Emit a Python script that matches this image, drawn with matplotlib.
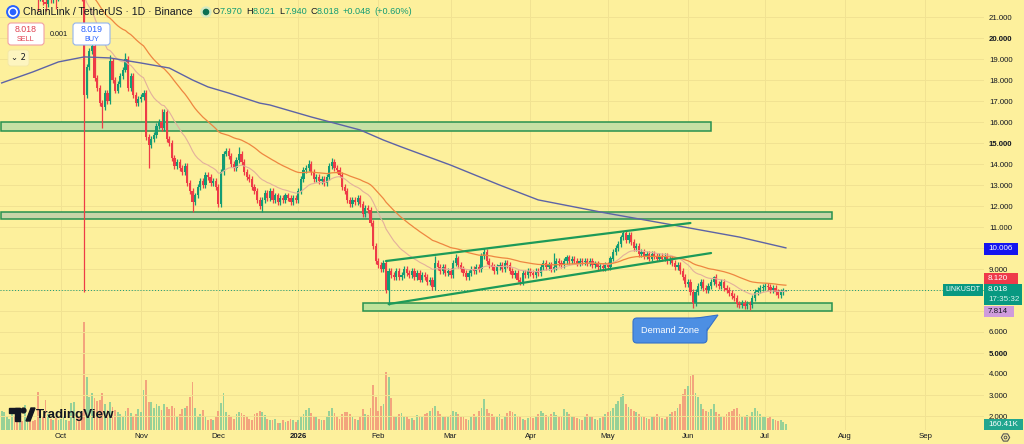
import numpy as np
import pandas as pd
import matplotlib
matplotlib.use('Agg')
import matplotlib.pyplot as plt
import matplotlib.dates as mdates
from matplotlib.patches import Rectangle, FancyBboxPatch, Polygon, Circle

plt.rcParams['font.family'] = ['Liberation Sans', 'DejaVu Sans']

# ---------------- data ----------------
start_date = '2025-09-08'
first_open = 22.3
closes_sep = [22.6, 23.0, 23.4, 23.7, 24.1, 23.9, 23.5, 23.8, 23.4, 23.6, 23.9, 23.3, 22.8, 22.5,
              21.9, 22.1, 21.7, 21.6, 22.0, 21.8, 22.2, 21.9, 22.0]
closes_oct = [22.4, 22.8, 23.0, 22.6, 22.9, 23.2, 22.5, 22.2, 21.9, 17.3, 18.6, 19.4, 19.6, 18.1,
              17.6, 16.9, 16.7, 17.4, 17.0, 18.9, 18.0, 17.5, 17.8, 18.2, 18.5, 19.0, 17.6, 18.2,
              17.3, 16.9, 17.1]
closes_nov = [17.2, 17.4, 15.3, 14.9, 15.2, 15.4, 15.8, 16.0, 15.7, 16.5, 15.2, 15.0, 14.3, 13.9,
              14.1, 13.8, 13.6, 13.9, 13.1, 12.7, 12.2, 12.5, 12.9, 13.2, 13.0, 13.5, 13.4, 13.1,
              13.2, 12.9]
closes_dec = [12.1, 13.6, 14.5, 14.6, 14.4, 14.0, 13.8, 14.2, 14.5, 14.1, 13.6, 13.4, 13.3, 12.9,
              12.7, 12.3, 12.0, 12.3, 12.6, 12.4, 12.7, 12.3, 12.5, 12.2, 12.4, 12.3, 12.5, 12.4,
              12.2, 12.4, 12.3]
closes_jan = [12.7, 13.3, 13.7, 13.8, 14.0, 13.6, 13.3, 13.4, 13.2, 13.3, 13.1, 13.4, 13.9, 14.1,
              13.8, 13.7, 13.5, 12.9, 12.7, 12.3, 12.1, 12.3, 12.2, 12.4, 12.1, 11.6, 11.9, 11.8,
              11.2, 10.1, 9.4]
closes_feb = [9.2, 9.0, 9.3, 8.0, 8.9, 8.7, 8.6, 8.9, 8.6, 8.7, 9.0, 8.8, 8.7, 8.9, 8.6, 8.8,
              8.5, 8.7, 8.6, 8.4, 8.5, 8.15, 9.3, 9.1, 8.9, 9.1, 8.8, 8.9]
closes_mar = [8.7, 9.3, 9.5, 9.2, 9.0, 8.8, 8.6, 8.8, 9.0, 8.9, 9.1, 9.0, 9.6, 9.8, 9.4, 9.2,
              9.1, 8.9, 9.1, 9.2, 9.0, 9.3, 9.2, 8.9, 8.7, 8.8, 8.5, 8.4, 8.8, 8.7, 8.9]
closes_apr = [8.8, 8.7, 8.9, 8.8, 9.1, 9.3, 9.1, 9.2, 9.0, 9.1, 9.4, 9.3, 9.2, 9.4, 9.55, 9.4,
              9.5, 9.4, 9.3, 9.4, 9.35, 9.4, 9.3, 9.4, 9.2, 9.25, 9.1, 9.15, 9.05, 9.2]
closes_may = [9.1, 9.5, 9.8, 10.0, 10.2, 10.5, 10.7, 10.4, 10.6, 10.3, 10.0, 10.1, 9.7, 9.8,
              9.6, 9.7, 9.5, 9.7, 9.6, 9.5, 9.6, 9.5, 9.6, 9.4, 9.5, 9.3, 9.1, 9.2, 8.9, 8.6, 8.3]
closes_jun = [8.4, 7.9, 7.4, 7.9, 8.2, 8.4, 8.1, 8.0, 8.2, 8.4, 8.6, 8.3, 8.2, 8.4, 8.1, 8.0,
              7.85, 7.7, 7.6, 7.35, 7.3, 7.4, 7.25, 7.35, 7.3, 7.6, 7.9, 8.0, 8.1, 8.15]
closes_jul = [8.2, 8.15, 8.0, 8.1, 7.9, 7.75, 7.9, 7.97, 8.018]

high_override = {'2025-10-10': 22.1, '2025-10-20': 19.2, '2025-10-26': 19.3, '2025-11-09': 16.6,
                 '2025-12-09': 14.8, '2026-01-05': 14.2, '2026-01-14': 14.3, '2026-02-23': 9.6,
                 '2026-03-03': 9.7, '2026-03-14': 10.0, '2026-04-10': 9.76, '2026-05-07': 10.8,
                 '2026-06-11': 8.65, '2026-07-09': 8.021}
low_override = {'2025-09-22': 21.3, '2025-09-25': 21.3, '2025-09-29': 21.4, '2025-10-10': 7.9,
                '2025-10-17': 15.7, '2025-11-04': 13.8, '2025-11-21': 11.7, '2025-12-18': 11.7,
                '2026-02-05': 7.29, '2026-03-28': 8.24, '2026-06-03': 7.14, '2026-06-25': 7.05,
                '2026-07-09': 7.94}

vol_sep = [520, 480, 350, 300, 420, 380, 260, 300, 250, 680, 310, 280, 240, 260, 1020, 400, 350,
           810, 420, 300, 280, 330, 260]
vol_oct = [300, 340, 280, 250, 730, 760, 420, 380, 450, 2920, 1430, 900, 1000, 860, 780, 820,
           1000, 700, 540, 760, 620, 540, 480, 420, 350, 520, 600, 450, 380, 420, 560]
vol_nov = [480, 1080, 1350, 760, 760, 600, 700, 650, 540, 700, 620, 560, 640, 600, 380, 420, 560,
           600, 640, 890, 1300, 600, 380, 420, 540, 350, 280, 300, 260, 340]
vol_dec = [520, 730, 1000, 480, 400, 350, 300, 420, 480, 450, 400, 380, 300, 260, 420, 450, 520,
           480, 400, 300, 260, 280, 300, 200, 180, 260, 220, 240, 300, 280, 220]
vol_jan = [260, 380, 420, 540, 600, 450, 380, 350, 300, 280, 260, 380, 520, 600, 450, 380, 300,
           420, 480, 500, 420, 350, 300, 260, 380, 560, 420, 400, 600, 1210, 890]
vol_feb = [520, 660, 700, 1570, 1430, 860, 380, 340, 420, 450, 380, 350, 300, 320, 280, 400, 380,
           350, 420, 450, 520, 600, 640, 520, 420, 380, 350, 380]
vol_mar = [400, 520, 480, 420, 380, 350, 300, 280, 350, 420, 380, 520, 600, 840, 560, 450, 420,
           380, 350, 420, 300, 380, 450, 520, 480, 420, 380, 350, 300, 280, 320]
vol_apr = [350, 320, 380, 420, 520, 450, 400, 380, 420, 480, 400, 350, 380, 560, 480, 420, 380,
           350, 320, 300, 280, 350, 420, 380, 350, 300, 280, 320, 380, 420]
vol_may = [480, 520, 600, 700, 780, 900, 960, 700, 620, 560, 520, 480, 420, 380, 350, 320, 300,
           350, 380, 420, 350, 320, 300, 380, 420, 480, 520, 600, 700, 980, 1100]
vol_jun = [1200, 1450, 1500, 1000, 900, 700, 560, 520, 480, 560, 700, 480, 420, 380, 350, 420, 480,
           520, 560, 600, 420, 380, 350, 400, 380, 480, 600, 520, 420, 380]
vol_jul = [350, 320, 380, 300, 260, 240, 280, 220, 160.41]

ma200_dates = ['2025-09-08', '2025-09-20', '2025-09-30', '2025-10-10', '2025-10-20', '2025-11-01',
               '2025-11-12', '2025-11-21', '2025-11-27', '2025-12-05', '2025-12-17', '2025-12-21',
               '2026-01-06', '2026-01-25', '2026-02-03', '2026-02-10', '2026-03-01', '2026-03-20',
               '2026-04-04', '2026-04-30', '2026-05-26', '2026-06-21', '2026-07-09']
ma200_vals = [17.86, 18.38, 18.86, 19.10, 19.05, 18.81, 18.57, 18.00, 17.67, 17.38, 16.90, 16.81,
              16.24, 15.62, 15.14, 14.81, 13.95, 13.00, 12.29, 11.67, 11.10, 10.52, 10.006]

# zones: (start, end, low, high)
zone_starts = ['2025-09-07', '2025-09-07', '2026-01-26']
zone_ends = ['2026-06-10', '2026-07-27', '2026-07-27']
zone_lows = [15.57, 11.38, 7.0]
zone_highs = [16.0, 11.71, 7.38]
# channel lines
chan_upper_dates = ['2026-02-04', '2026-06-02']
chan_upper_vals = [9.38, 11.19]
chan_lower_dates = ['2026-02-05', '2026-06-10']
chan_lower_vals = [7.33, 9.76]

month_ticks = ['2025-10-01', '2025-11-01', '2025-12-01', '2026-01-01', '2026-02-01', '2026-03-01',
               '2026-04-01', '2026-05-01', '2026-06-01', '2026-07-01', '2026-08-01', '2026-09-01']
month_labels = ['Oct', 'Nov', 'Dec', '2026', 'Feb', 'Mar', 'Apr', 'May', 'Jun', 'Jul', 'Aug', 'Sep']
price_ticks = list(range(2, 22))

# ---------------- build series ----------------
closes = np.array(closes_sep + closes_oct + closes_nov + closes_dec + closes_jan + closes_feb +
                  closes_mar + closes_apr + closes_may + closes_jun + closes_jul)
vols = np.array(vol_sep + vol_oct + vol_nov + vol_dec + vol_jan + vol_feb + vol_mar + vol_apr +
                vol_may + vol_jun + vol_jul)
dates = pd.date_range(start_date, periods=len(closes), freq='D')
opens = np.concatenate([[first_open], closes[:-1]])
wick = 0.14
highs = np.maximum(opens, closes) + wick
lows = np.minimum(opens, closes) - wick
for d, v in high_override.items():
    highs[dates.get_loc(pd.Timestamp(d))] = v
for d, v in low_override.items():
    lows[dates.get_loc(pd.Timestamp(d))] = v
s = pd.Series(closes, index=dates)
ema_fast = s.ewm(span=20, adjust=False).mean()
ema_slow = s.ewm(span=50, adjust=False).mean()

x = mdates.date2num(dates)
d0 = mdates.date2num(pd.Timestamp(start_date))

# ---------------- style ----------------
BG = '#fdf09c'
GRID = '#f1e292'
UP = '#139c74'
DN = '#ee3b47'
TXT = '#131722'
W, H = 1024, 444

fig = plt.figure(figsize=(W / 100, H / 100), dpi=100, facecolor=BG)
rect = [0, (H - 430) / H, 984 / W, 430 / H]
axv = fig.add_axes(rect, zorder=0)
ax = fig.add_axes(rect, zorder=1, sharex=axv)
axv.set_facecolor(BG)
ax.patch.set_alpha(0)

xmin, xmax = d0 - 0.64, d0 + 380.8
ax.set_xlim(xmin, xmax)
ax.set_ylim(21 - 413 / 21, 21 + 17 / 21)

# grid
for t in month_ticks:
    axv.axvline(mdates.date2num(pd.Timestamp(t)), color=GRID, lw=0.7, zorder=0)
for p in price_ticks:
    ax.axhline(p, color=GRID, lw=0.7, zorder=0)

# volume
vcol = np.where(closes >= opens, '#97d197', '#f3a47d')
axv.bar(x, vols, width=0.7, color=vcol, lw=0, zorder=2)
axv.set_ylim(0, 2920 * 430 / 108)
axv.axis('off')

# zones
for zs, ze, lo, hi, fc in zip(zone_starts, zone_ends, zone_lows, zone_highs,
                              ['#c6e0a4', '#c9d4a8', '#bfe39b']):
    xs = max(mdates.date2num(pd.Timestamp(zs)), xmin + 0.35)
    xe = mdates.date2num(pd.Timestamp(ze))
    ax.add_patch(Rectangle((xs, lo), xe - xs, hi - lo, facecolor=fc, edgecolor='#27914f',
                           lw=1.1, zorder=2))

# current price dotted line
ax.axhline(closes[-1], color=UP, lw=0.7, ls=(0, (1, 2)), zorder=3)

# candles
col = np.where(closes >= opens, UP, DN)
ax.vlines(x, lows, highs, colors=col, lw=0.9, zorder=4)
ax.bar(x, np.maximum(np.abs(closes - opens), 0.04), bottom=np.minimum(opens, closes),
       width=0.86, color=col, lw=0, zorder=5)

# moving averages
ax.plot(x, ema_fast.values, color='#e3b09c', lw=0.8, zorder=6)
ax.plot(x, ema_slow.values, color='#ee8640', lw=0.9, zorder=6)
ax.plot(mdates.date2num(pd.to_datetime(ma200_dates)), ma200_vals, color='#5d63a6', lw=1.0, zorder=6)

# channel
ax.plot(mdates.date2num(pd.to_datetime(chan_upper_dates)), chan_upper_vals, color='#1d9a58',
        lw=1.6, zorder=7, solid_capstyle='round')
ax.plot(mdates.date2num(pd.to_datetime(chan_lower_dates)), chan_lower_vals, color='#1d9a58',
        lw=1.6, zorder=7, solid_capstyle='round')

# axes ticks
ax.set_xticks(mdates.date2num(pd.to_datetime(month_ticks)))
ax.set_xticklabels(month_labels)
ax.tick_params(axis='x', length=0, pad=2.5, labelsize=5.6, colors=TXT)
for lbl in ax.get_xticklabels():
    if lbl.get_text() == '2026':
        lbl.set_fontweight('bold')
ax.yaxis.tick_right()
ax.set_yticks(price_ticks)
ax.set_yticklabels([f'{p:.3f}' for p in price_ticks])
ax.tick_params(axis='y', length=0, pad=3.6, labelsize=5.6, colors=TXT)
for lbl in ax.get_yticklabels():
    if lbl.get_text() in ('20.000', '15.000', '5.000'):
        lbl.set_fontweight('bold')
for sp in ax.spines.values():
    sp.set_visible(False)

# ---------------- overlay UI (pixel coordinates) ----------------
axo = fig.add_axes([0, 0, 1, 1], zorder=10)
axo.set_xlim(0, W)
axo.set_ylim(H, 0)
axo.axis('off')
axo.patch.set_alpha(0)

# header
axo.add_patch(Circle((13, 12), 6.2, color='#2962ff'))
axo.add_patch(Circle((13, 12), 4.2, color='white'))
axo.add_patch(Circle((13, 12), 2.6, color='#2962ff'))
axo.text(23, 12, 'ChainLink / TetherUS · 1D · Binance', fontsize=7.6, color=TXT, va='center', ha='left')
axo.add_patch(Circle((206, 12), 5, color='#cfe9c7', alpha=0.8))
axo.add_patch(Circle((206, 12), 2.6, color='#0b6f52'))
renderer = fig.canvas.get_renderer()
xx = 213
for txt, c in [('O', TXT), ('7.970', UP), ('H', TXT), ('8.021', UP), ('L', TXT), ('7.940', UP),
               ('C', TXT), ('8.018', UP), ('+0.048', UP), ('(+0.60%)', UP)]:
    t = axo.text(xx, 12, txt, fontsize=6.6, color=c, va='center', ha='left')
    bb = t.get_window_extent(renderer=renderer)
    xx += bb.width + (0 if c == TXT else 3.3)

# sell / buy
axo.add_patch(FancyBboxPatch((8, 23), 36, 22, boxstyle='round,pad=0,rounding_size=3',
                             facecolor='white', edgecolor='#f2a0a6', lw=0.8))
axo.text(26, 30, '8.018', fontsize=6.3, color='#e0404f', ha='center', va='center')
axo.text(26, 39.5, 'SELL', fontsize=5.2, color='#e0404f', ha='center', va='center')
axo.text(50, 34, '0.001', fontsize=5.2, color=TXT, ha='left', va='center')
axo.add_patch(FancyBboxPatch((73, 23), 37, 22, boxstyle='round,pad=0,rounding_size=3',
                             facecolor='white', edgecolor='#93b4ef', lw=0.8))
axo.text(91.5, 30, '8.019', fontsize=6.3, color='#2962ff', ha='center', va='center')
axo.text(91.5, 39.5, 'BUY', fontsize=5.2, color='#2962ff', ha='center', va='center')
axo.add_patch(FancyBboxPatch((8, 50), 21, 16, boxstyle='round,pad=0,rounding_size=3',
                             facecolor='#fdf5c0', edgecolor='#f3e7a8', lw=0.6))
axo.text(18.5, 58, '⌄ 2', fontsize=6, color=TXT, ha='center', va='center',
         family=['DejaVu Sans'])

# price tags on right axis
def tag(y0, h, text, fc, tc, x0=984, w=34, fs=5.8):
    axo.add_patch(Rectangle((x0, y0), w, h, facecolor=fc, edgecolor='none'))
    axo.text(x0 + 4, y0 + h / 2, text, fontsize=fs, color=tc, ha='left', va='center')

tag(243, 11.5, '10.006', '#1414f0', 'white')
tag(273, 11, '8.120', '#ef3a4a', 'white')
axo.add_patch(Rectangle((984, 284), 38, 21, facecolor='#089981', edgecolor='none'))
axo.text(988, 289.5, '8.018', fontsize=5.8, color='white', ha='left', va='center')
axo.text(988, 299.5, '17:35:32', fontsize=5.8, color='#d7f3ea', ha='left', va='center')
tag(305.5, 11.5, '7.814', '#cf9bdc', TXT, w=30)
axo.add_patch(Rectangle((943, 284), 40, 11.5, facecolor='#089981', edgecolor='none'))
axo.text(963, 289.8, 'LINKUSDT', fontsize=5.0, color='white', ha='center', va='center')
tag(418.5, 11, '160.41K', '#22a68f', 'white', w=39)
axo.plot([1005], [437], marker='H', ms=6, mfc='none', mec='#555555', mew=0.8)
axo.plot([1005], [437], marker='o', ms=2, mfc='none', mec='#555555', mew=0.7)

# Demand Zone callout
axo.add_patch(Polygon([[690, 319], [718, 315], [706, 332]], closed=True, facecolor='#4d8fe3',
                      edgecolor='#3572c9', lw=0.8))
axo.add_patch(FancyBboxPatch((633, 318), 74, 25, boxstyle='round,pad=0,rounding_size=4',
                             facecolor='#4d8fe3', edgecolor='#3572c9', lw=0.8))
axo.add_patch(Polygon([[692, 319.5], [716, 316], [705, 331]], closed=True, facecolor='#4d8fe3',
                      edgecolor='none'))
axo.text(670, 330.5, 'Demand Zone', fontsize=6.6, color='white', ha='center', va='center')

# TradingView logo
axo.add_patch(Rectangle((9, 408), 11, 4.5, color='#131722'))
axo.add_patch(Rectangle((14.5, 408), 5.5, 13, color='#131722'))
axo.add_patch(Circle((23.5, 410.5), 2.4, color='#131722'))
axo.add_patch(Polygon([[26, 421], [31, 408], [35, 408], [30, 421]], closed=True, color='#131722'))
axo.text(36, 414.5, 'TradingView', fontsize=9.6, fontweight='bold', color='#131722',
         ha='left', va='center')

fig.savefig('out.png', dpi=100, facecolor=BG)
